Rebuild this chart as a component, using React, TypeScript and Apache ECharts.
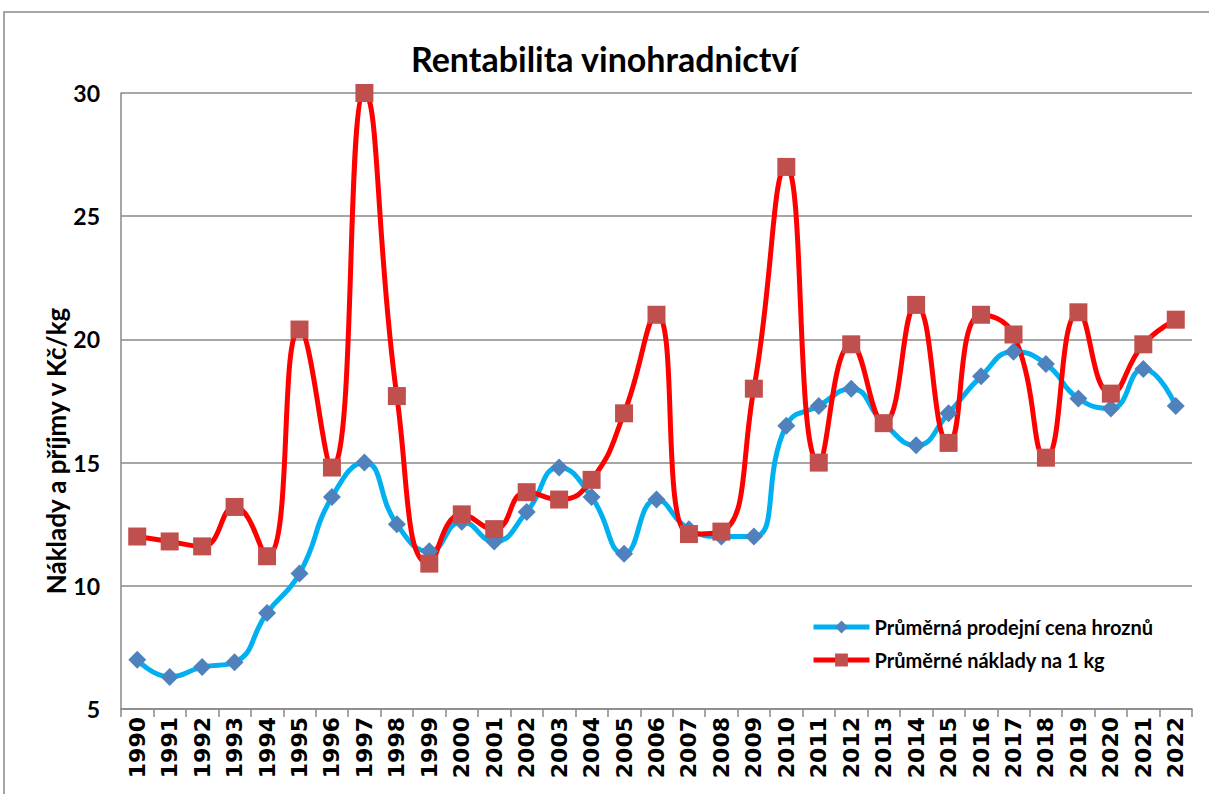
import React, { useEffect, useRef } from "react";
import * as echarts from "echarts";

const years = [
  "1990", "1991", "1992", "1993", "1994", "1995", "1996", "1997", "1998", "1999",
  "2000", "2001", "2002", "2003", "2004", "2005", "2006", "2007", "2008", "2009",
  "2010", "2011", "2012", "2013", "2014", "2015", "2016", "2017", "2018", "2019",
  "2020", "2021", "2022",
];

const priceGrapes = [
  7.0, 6.3, 6.7, 6.9, 8.9, 10.5, 13.6, 15.0, 12.5, 11.4,
  12.6, 11.8, 13.0, 14.8, 13.6, 11.3, 13.5, 12.3, 12.0, 12.0,
  16.5, 17.3, 18.0, 16.6, 15.7, 17.0, 18.5, 19.5, 19.0, 17.6,
  17.2, 18.8, 17.3,
];

const costPerKg = [
  12.0, 11.8, 11.6, 13.2, 11.2, 20.4, 14.8, 30.0, 17.7, 10.9,
  12.9, 12.3, 13.8, 13.5, 14.3, 17.0, 21.0, 12.1, 12.2, 18.0,
  27.0, 15.0, 19.8, 16.6, 21.4, 15.8, 21.0, 20.2, 15.2, 21.1,
  17.8, 19.8, 20.8,
];

const seriesNames = ["Průměrná prodejní cena hroznů", "Průměrné náklady na 1 kg"];
const titleText = "Rentabilita vinohradnictví";
const yAxisTitle = "Náklady a příjmy v Kč/kg";

export default function App() {
  const ref = useRef<HTMLDivElement>(null);

  useEffect(() => {
    if (!ref.current) return;
    const chart = echarts.init(ref.current, undefined, { renderer: "svg" });
    const grey = "#898989";
    chart.setOption({
      animation: false,
      backgroundColor: "#ffffff",
      title: {
        text: titleText,
        left: "center",
        top: 36,
        textStyle: {
          fontFamily: "Lato",
          fontWeight: "bold",
          fontSize: 34,
          color: "#000000",
        },
      },
      graphic: [
        {
          type: "rect",
          shape: { x: 4, y: 12, width: 1230, height: 820 },
          style: { fill: "none", stroke: grey, lineWidth: 1.5 },
          silent: true,
        },
        {
          type: "text",
          x: 56,
          y: 451,
          rotation: Math.PI / 2,
          style: {
            text: yAxisTitle,
            fontFamily: "Lato",
            fontWeight: "bold",
            fontSize: 26,
            fill: "#000000",
            align: "center",
            verticalAlign: "middle",
          },
        },
      ],
      legend: {
        orient: "vertical",
        left: 806,
        top: 612,
        itemWidth: 56,
        itemHeight: 16,
        itemGap: 13,
        lineStyle: { width: 5 },
        textStyle: {
          fontFamily: "Lato",
          fontWeight: "bold",
          fontSize: 20,
          color: "#000000",
        },
        data: seriesNames,
      },
      grid: { left: 121, right: 17, top: 93, bottom: 85, containLabel: false },
      xAxis: {
        type: "category",
        data: years,
        boundaryGap: true,
        axisLine: { show: true, lineStyle: { color: grey, width: 1.5 } },
        axisTick: { show: true, length: 8, lineStyle: { color: grey, width: 1.5 } },
        axisLabel: {
          rotate: 90,
          interval: 0,
          margin: 8,
          fontFamily: "DejaVu Sans",
          fontWeight: "bold",
          fontSize: 22,
          color: "#000000",
        },
      },
      yAxis: {
        type: "value",
        min: 5,
        max: 30,
        interval: 5,
        axisLine: { show: true, lineStyle: { color: grey, width: 1.5 } },
        axisTick: { show: false },
        splitLine: { show: true, lineStyle: { color: grey, width: 1.5 } },
        axisLabel: {
          margin: 21,
          fontFamily: "Lato",
          fontWeight: "bold",
          fontSize: 23,
          color: "#000000",
        },
      },
      series: [
        {
          name: seriesNames[0],
          type: "line",
          data: priceGrapes,
          smooth: 0.5,
          symbol: "diamond",
          symbolSize: 18,
          lineStyle: { color: "#00B0F0", width: 5 },
          itemStyle: { color: "#4F81BD" },
        },
        {
          name: seriesNames[1],
          type: "line",
          data: costPerKg,
          smooth: 0.5,
          symbol: "rect",
          symbolSize: 18,
          lineStyle: { color: "#FF0000", width: 5 },
          itemStyle: { color: "#C0504D" },
        },
      ],
    });
    return () => chart.dispose();
  }, []);

  return (
    <div
      ref={ref}
      style={{ position: "fixed", left: 0, top: 0, width: 1209, height: 794 }}
    />
  );
}
